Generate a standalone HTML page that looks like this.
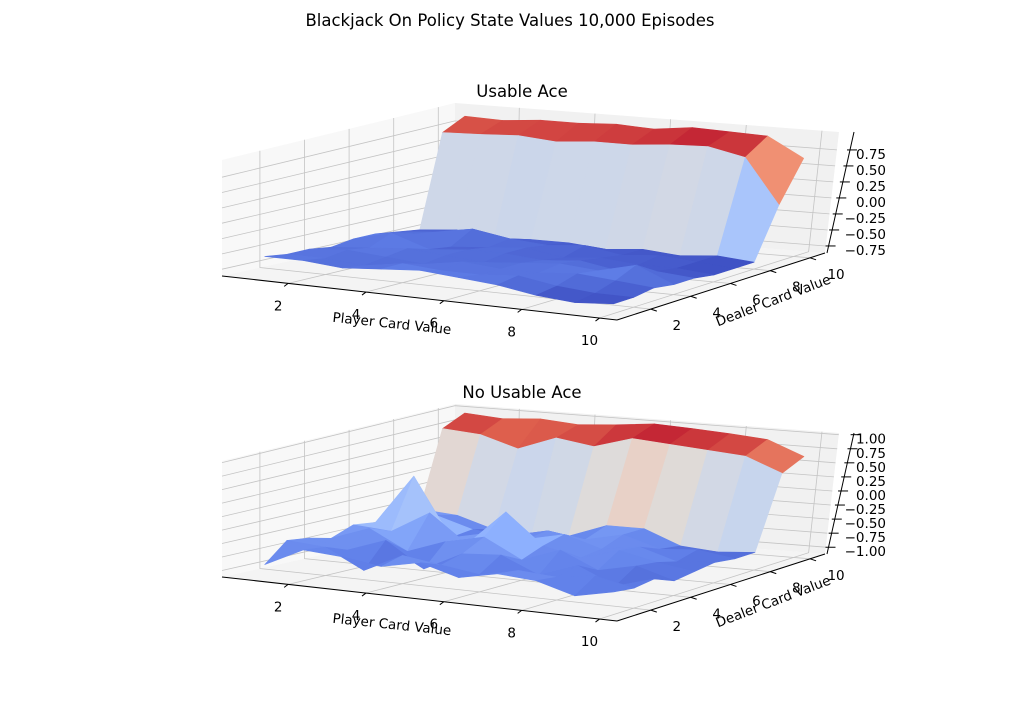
<!DOCTYPE html>
<html><head><meta charset="utf-8">
<style>
html,body{margin:0;padding:0;background:#fff;}
svg{display:block;font-family:"DejaVu Sans","Liberation Sans",sans-serif;}
</style></head>
<body>
<svg id="fig" width="1019" height="715" viewBox="0 0 1019 715">
<rect width="1019" height="715" fill="#fff"/>
<text x="510" y="26" font-size="16.5" text-anchor="middle" fill="#000">Blackjack On Policy State Values 10,000 Episodes</text>
<g id="top"></g>
<g id="bot"></g>
</svg>
<script>
const playerCards = [1,2,3,4,5,6,7,8,9,10];
const dealerCards = [1,2,3,4,5,6,7,8,9,10];
const xTicks = [2,4,6,8,10];
const yTicks = [2,4,6,8,10];
const usableZTicks = [-0.75,-0.5,-0.25,0,0.25,0.5,0.75];
const usableZTickLabels = ["\u22120.75","\u22120.50","\u22120.25","0.00","0.25","0.50","0.75"];
const noUsableZTicks = [-1,-0.75,-0.5,-0.25,0,0.25,0.5,0.75,1];
const noUsableZTickLabels = ["\u22121.00","\u22120.75","\u22120.50","\u22120.25","0.00","0.25","0.50","0.75","1.00"];
// rows = dealer card 1..10, columns = player card 1..10
const usableAceValues = [
 [-0.55,-0.55,-0.6,-0.55,-0.5,-0.55,-0.6,-0.7,-0.75,-0.7],
 [-0.6,-0.6,-0.65,-0.55,-0.6,-0.6,-0.55,-0.65,-0.7,-0.7],
 [-0.6,-0.55,-0.6,-0.65,-0.55,-0.6,-0.6,-0.55,-0.6,-0.65],
 [-0.65,-0.6,-0.55,-0.6,-0.65,-0.6,-0.55,-0.6,-0.45,-0.7],
 [-0.6,-0.45,-0.65,-0.6,-0.6,-0.65,-0.6,-0.7,-0.65,-0.7],
 [-0.6,-0.55,-0.7,-0.65,-0.6,-0.7,-0.65,-0.7,-0.7,-0.75],
 [-0.65,-0.6,-0.5,-0.6,-0.65,-0.6,-0.7,-0.65,-0.7,-0.75],
 [-0.7,-0.65,-0.75,-0.7,-0.7,-0.75,-0.7,-0.75,-0.7,-0.75],
 [0.75,0.77,0.8,0.75,0.8,0.8,0.85,0.87,0.75,0.05],
 [0.92,0.9,0.95,0.95,0.98,0.95,1.02,1.0,0.98,0.68]
];
const noUsableAceValues = [
 [-0.9,-0.55,-0.6,-0.7,-0.55,-0.75,-0.6,-0.65,-0.85,-0.7],
 [-0.55,-0.6,-0.95,-0.6,-0.7,-0.8,-0.65,-0.7,-0.6,-0.75],
 [-0.6,-0.75,-0.5,-0.95,-0.6,-0.55,-0.85,-0.6,-0.9,-0.7],
 [-0.7,-0.45,-0.8,-0.55,-0.4,-0.75,-0.5,-0.8,-0.65,-0.85],
 [-0.55,-0.6,-0.2,-0.7,-0.05,-0.6,-0.75,-0.55,-0.7,-0.8],
 [-0.6,0.3,-0.75,-0.6,-0.65,-0.5,-0.7,-0.6,-0.8,-0.75],
 [-0.65,-0.5,-0.7,-0.75,-0.6,-0.7,-0.55,-0.75,-0.7,-0.8],
 [-0.55,-0.6,-0.8,-0.85,-0.8,-0.55,-0.55,-0.8,-0.85,-0.8],
 [0.8,0.75,0.55,0.8,0.7,0.9,0.85,0.8,0.75,0.5],
 [0.98,0.93,0.98,0.93,0.98,1.05,1.02,0.98,0.93,0.68]
];

const NS = "http://www.w3.org/2000/svg";
const CM = [[59,76,192],[98,130,234],[141,176,254],[184,208,249],[221,220,220],[245,196,173],[244,154,123],[222,96,77],[180,4,38]];
function coolwarm(t){
  t = Math.max(0,Math.min(1,t));
  const s = t*8, i = Math.min(7,Math.floor(s)), f = s-i;
  const a = CM[i], b = CM[i+1];
  return "rgb("+[0,1,2].map(k=>Math.round(a[k]+(b[k]-a[k])*f)).join(",")+")";
}
function el(tag, attrs, parent){
  const e = document.createElementNS(NS, tag);
  for (const k in attrs) e.setAttribute(k, attrs[k]);
  parent.appendChild(e);
  return e;
}

const XLO=0.3, XHI=10.45, YLO=0.3, YHI=10.75;

function drawPlot(g, Z, zmin, zmax, zTicks, zLabels, dy, title){
  const A=[222,276+dy], B=[617,320+dy], C=[825,253+dy], D=[455,224+dy];
  function floorUV(u,v){
    return [(1-u)*(1-v)*A[0]+u*(1-v)*B[0]+u*v*C[0]+(1-u)*v*D[0],
            (1-u)*(1-v)*A[1]+u*(1-v)*B[1]+u*v*C[1]+(1-u)*v*D[1]];
  }
  function projUVZ(u,v,z){
    const p = floorUV(u,v);
    const H = 116 + 5*v;
    return [p[0] + 14*v*((z-zmin)/(zmax-zmin))*(u), p[1] - (z-zmin)/(zmax-zmin)*H];
  }
  const xs = x => (x-XLO)/(XHI-XLO);
  const ys = y => (y-YLO)/(YHI-YLO);
  const proj = (x,y,z) => projUVZ(xs(x), ys(y), z);
  const pts = a => a.map(p=>p[0].toFixed(1)+","+p[1].toFixed(1)).join(" ");

  const floorPane = el("polygon",{points:pts([floorUV(0,0),floorUV(1,0),floorUV(1,1),floorUV(0,1)]),fill:"#f4f4f4"},g);
  
  
  const leftPane = el("polygon",{points:pts([projUVZ(0,0,zmin),projUVZ(0,1,zmin),projUVZ(0,1,zmax),projUVZ(0,0,zmax)]),fill:"#f8f8f8"},g);
  
  
  const backPane = el("polygon",{points:pts([projUVZ(0,1,zmin),projUVZ(1,1,zmin),projUVZ(1,1,zmax),projUVZ(0,1,zmax)]),fill:"#f1f1f1"},g);
  
  

  const gs = {stroke:"#c4c4c4","stroke-width":0.8,fill:"none"};
  xTicks.forEach(t=>{
    const u=xs(t);
    const l1 = el("polyline",Object.assign({points:pts([floorUV(u,0),floorUV(u,1),projUVZ(u,1,zmax)])},gs),g);
    
    
  });
  yTicks.forEach(t=>{
    const v=ys(t);
    const l2 = el("polyline",Object.assign({points:pts([floorUV(1,v),floorUV(0,v),projUVZ(0,v,zmax)])},gs),g);
    
    
  });
  zTicks.forEach(t=>{
    const l3 = el("polyline",Object.assign({points:pts([projUVZ(0,0,t),projUVZ(0,1,t),projUVZ(1,1,t)])},gs),g);
    
    
  });

  const ax = el("polyline",{points:pts([floorUV(0,0),floorUV(1,0)]),stroke:"#000","stroke-width":1,fill:"none"},g);
  
  
  const ay = el("polyline",{points:pts([floorUV(1,0),floorUV(1,1)]),stroke:"#000","stroke-width":1,fill:"none"},g);
  
  
  const zb = projUVZ(1,1,zmin), zt = projUVZ(1,1,zmax);
  const az = el("line",{x1:zb[0]+2,y1:zb[1],x2:zt[0]+15,y2:zt[1],stroke:"#000","stroke-width":1},g);
  
  

  xTicks.forEach(t=>{
    const p = floorUV(xs(t),0);
    const tk = el("line",{x1:p[0],y1:p[1],x2:p[0]-4,y2:p[1]+3,stroke:"#000","stroke-width":1},g);
    
    
    const tx = el("text",{x:p[0]-10,y:p[1]+27,"font-size":13.5,"text-anchor":"middle"},g);
    tx.textContent = t;
    
    
  });
  yTicks.forEach(t=>{
    const p = floorUV(1,ys(t));
    const tk = el("line",{x1:p[0],y1:p[1],x2:p[0]+6,y2:p[1]+2,stroke:"#000","stroke-width":1},g);
    
    
    const tx = el("text",{x:p[0]+26,y:p[1]+21,"font-size":13.5,"text-anchor":"middle"},g);
    tx.textContent = t;
    
    
  });
  zTicks.forEach((t,i)=>{
    const f = (t-zmin)/(zmax-zmin);
    const x = zb[0]+2+(zt[0]+15-zb[0]-2)*f, y = zb[1]+(zt[1]-zb[1])*f;
    const tk = el("line",{x1:x-3,y1:y,x2:x+7,y2:y,stroke:"#000","stroke-width":1},g);
    
    
    const tx = el("text",{x:886,y:y+9,"font-size":13.5,"text-anchor":"end"},g);
    tx.textContent = zLabels[i];
    
    
  });
  const xl = el("text",{x:392,y:328+dy,"font-size":13.5,"text-anchor":"middle",transform:"rotate(6 392 "+(323+dy)+")"},g);
  xl.textContent = "Player Card Value";
  
  
  const yl = el("text",{x:773,y:305+dy,"font-size":13.5,"text-anchor":"middle",transform:"rotate(-21 773 "+(300+dy)+")"},g);
  yl.textContent = "Dealer Card Value";
  
  
  const tt = el("text",{x:522,y:97+dy,"font-size":16.5,"text-anchor":"middle"},g);
  tt.textContent = title;
  
  

  let vmin=Infinity, vmax=-Infinity;
  Z.forEach(r=>r.forEach(v=>{vmin=Math.min(vmin,v);vmax=Math.max(vmax,v);}));
  const quads=[];
  for(let j=0;j<dealerCards.length-1;j++){
    for(let i=0;i<playerCards.length-1;i++){
      const x0=playerCards[i], x1=playerCards[i+1], y0=dealerCards[j], y1=dealerCards[j+1];
      const z00=Z[j][i], z10=Z[j][i+1], z11=Z[j+1][i+1], z01=Z[j+1][i];
      const mean=(z00+z10+z11+z01)/4;
      const near = 4.1*(x0+x1)/2 - 5.3*(y0+y1)/2;
      quads.push({near, mean, p:[proj(x0,y0,z00),proj(x1,y0,z10),proj(x1,y1,z11),proj(x0,y1,z01)]});
    }
  }
  quads.sort((a,b)=>a.near-b.near);
  quads.forEach(q=>{
    const c = coolwarm((q.mean-vmin)/(vmax-vmin));
    const poly = el("polygon",{points:pts(q.p),fill:c,stroke:c,"stroke-width":0.6,"stroke-linejoin":"round"},g);
    
    
  });
}

drawPlot(document.getElementById("top"), usableAceValues, -0.86, 1.03, usableZTicks, usableZTickLabels, 0, "Usable Ace");
drawPlot(document.getElementById("bot"), noUsableAceValues, -1.12, 1.03, noUsableZTicks, noUsableZTickLabels, 301, "No Usable Ace");
</script>
</body></html>
